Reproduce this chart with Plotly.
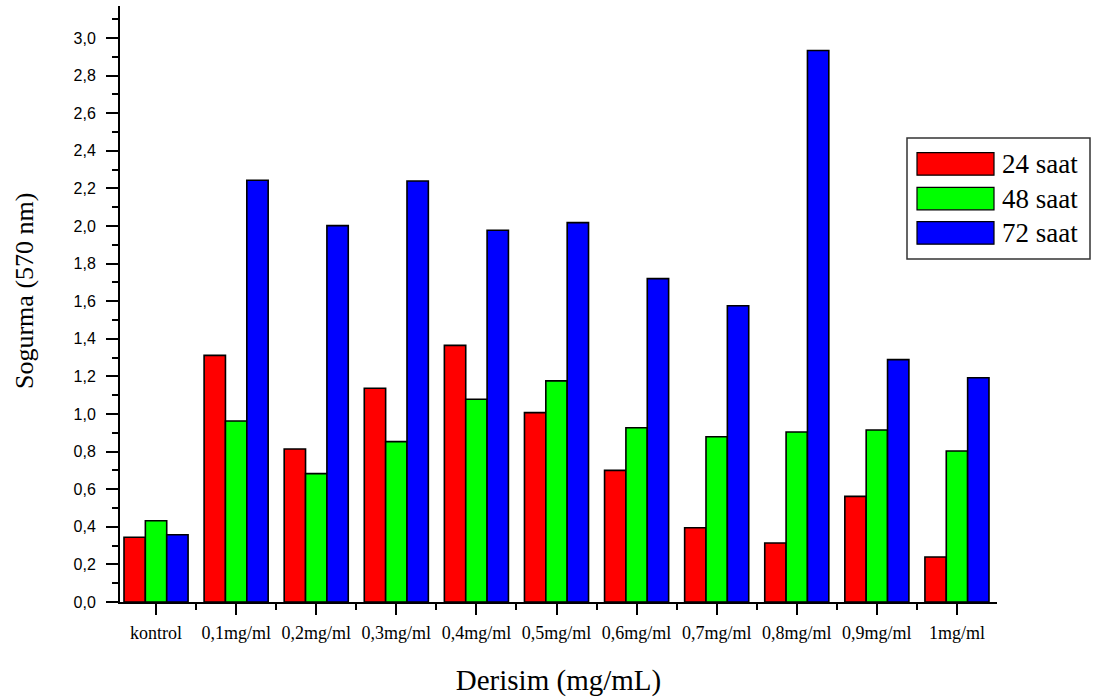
import plotly.graph_objects as go

# Absorbance readings per concentration group and incubation time
categories = ["kontrol", "0,1mg/ml", "0,2mg/ml", "0,3mg/ml", "0,4mg/ml", "0,5mg/ml",
              "0,6mg/ml", "0,7mg/ml", "0,8mg/ml", "0,9mg/ml", "1mg/ml"]
series_names = ["24 saat", "48 saat", "72 saat"]
values_24h = [0.344, 1.312, 0.814, 1.137, 1.365, 1.007, 0.700, 0.395, 0.314, 0.562, 0.239]
values_48h = [0.432, 0.963, 0.683, 0.853, 1.078, 1.176, 0.927, 0.879, 0.904, 0.915, 0.803]
values_72h = [0.358, 2.243, 2.002, 2.239, 1.977, 2.018, 1.720, 1.576, 2.933, 1.289, 1.193]
series_colors = ["#FF0000", "#00FF00", "#0000FF"]

W, H = 1103, 699
L, R, T, B = 120, 106, 6, 97
x_pos = list(range(len(categories)))

fig = go.Figure()
for name, vals, col in zip(series_names, [values_24h, values_48h, values_72h], series_colors):
    fig.add_trace(go.Bar(
        x=x_pos, y=vals, name=name,
        marker=dict(color=col, line=dict(color="black", width=1.6)),
    ))

serif = "Liberation Serif"
sans = "Liberation Sans"

fig.update_layout(
    width=W, height=H,
    margin=dict(l=L, r=R, t=T, b=B),
    plot_bgcolor="white", paper_bgcolor="white",
    barmode="group", bargap=0.2, bargroupgap=0.0,
    separators=", ",
    showlegend=False,
    xaxis=dict(
        range=[-0.45, 10.5],
        tickmode="array", tickvals=x_pos, ticktext=categories,
        showline=True, linecolor="black", linewidth=2,
        ticks="outside", ticklen=11, tickwidth=2, tickcolor="black",
        minor=dict(tickvals=[i + 0.5 for i in x_pos[:-1]], ticks="outside",
                   ticklen=6, tickwidth=2, tickcolor="black"),
        showgrid=False, zeroline=False,
        tickfont=dict(family=serif, size=18, color="black"),
        ticklabelstandoff=2,
        title=dict(text="Derisim (mg/mL)", font=dict(family=serif, size=29, color="black"),
                   standoff=28),
    ),
    yaxis=dict(
        range=[0, 3.17],
        tickmode="linear", tick0=0, dtick=0.2, tickformat=".1f",
        showline=True, linecolor="black", linewidth=2,
        ticks="outside", ticklen=12, tickwidth=2, tickcolor="black",
        minor=dict(tick0=0, dtick=0.1, ticks="outside", ticklen=6,
                   tickwidth=2, tickcolor="black"),
        showgrid=False, zeroline=False,
        tickfont=dict(family=sans, size=16, color="black"),
        ticklabelstandoff=7,
    ),
)

# Pixel -> paper coordinate helpers
plot_w = W - L - R
plot_h = H - T - B


def px_x(px):
    return (px - L) / plot_w


def px_y(py):
    return (H - B - py) / plot_h


annotations = [dict(xref="paper", yref="paper", x=px_x(24), y=px_y(291),
                    text="Sogurma (570 nm)", textangle=-90, showarrow=False,
                    xanchor="center", yanchor="middle",
                    font=dict(family=serif, size=26, color="black"))]

# Hand-built legend box with wide colour swatches
shapes = [dict(type="rect", xref="paper", yref="paper",
               x0=px_x(907), x1=px_x(1090), y0=px_y(259), y1=px_y(138),
               line=dict(color="#333333", width=1.5), fillcolor="white", layer="above")]
row_top = [152.7, 187.3, 221.7]
for name, col, top in zip(series_names, series_colors, row_top):
    shapes.append(dict(type="rect", xref="paper", yref="paper",
                       x0=px_x(917), x1=px_x(994), y0=px_y(top + 22.5), y1=px_y(top),
                       line=dict(color="black", width=1.2), fillcolor=col, layer="above"))
    annotations.append(dict(xref="paper", yref="paper", x=px_x(1000), y=px_y(top + 11.5),
                            text=name, showarrow=False, xanchor="left", yanchor="middle",
                            font=dict(family=serif, size=27, color="black")))
fig.update_layout(shapes=shapes, annotations=annotations)

fig.write_html("out.html")
